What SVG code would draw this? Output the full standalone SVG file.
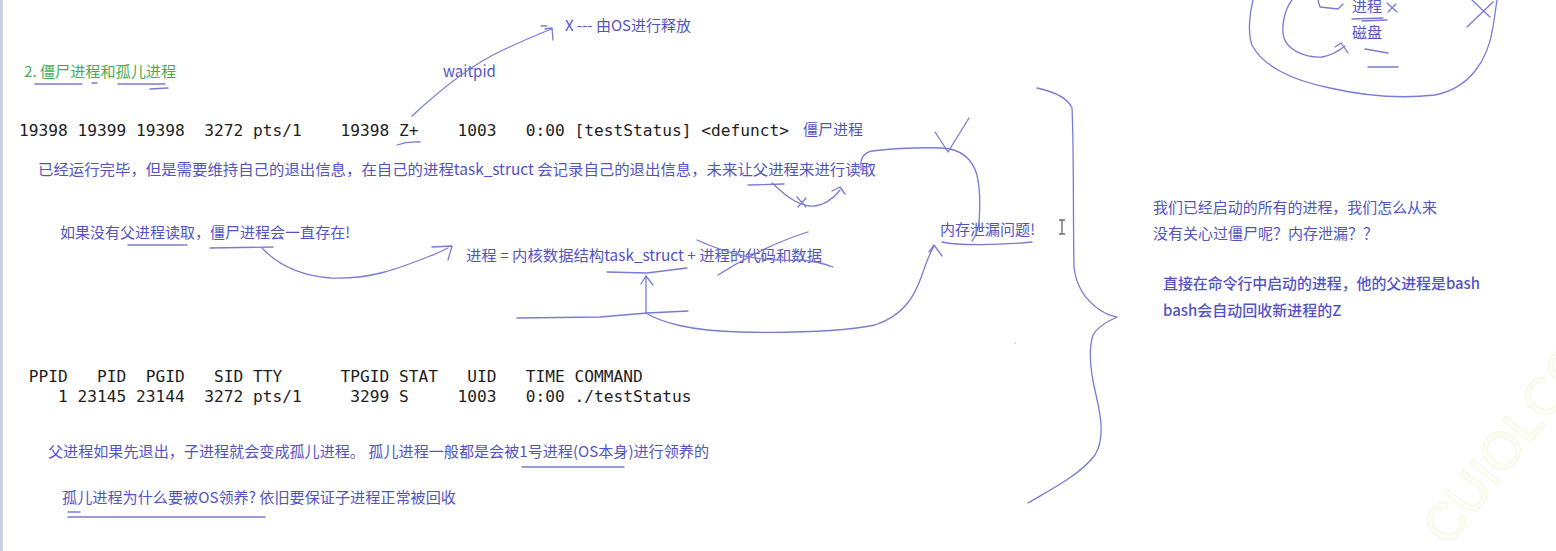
<svg xmlns="http://www.w3.org/2000/svg" width="1556" height="551" viewBox="0 0 1556 551">
<style>
.ink{fill:none;stroke:#7b7bd3;stroke-width:1.3;stroke-linecap:round;stroke-linejoin:round}
.cn{font-family:"Noto Sans CJK SC","Noto Sans",sans-serif;font-size:15px;fill:#5353c6}
.cnb{font-family:"Noto Sans CJK SC","Noto Sans",sans-serif;font-size:15px;fill:#5353c6;font-weight:500}
.green{font-family:"Noto Sans CJK SC","Noto Sans",sans-serif;font-size:14.5px;fill:#3fae4f}
.mono{font-family:"DejaVu Sans Mono","Liberation Mono",monospace;font-size:16.2px;fill:#1e1e1e}
</style>
<rect x="0" y="0" width="1556" height="551" fill="#ffffff"/>
<rect x="0" y="0" width="3" height="551" fill="#c9cee2"/>

<!-- watermark -->
<text x="1448" y="548" transform="rotate(-52 1448 548)" font-family="Liberation Sans,sans-serif" font-size="52" fill="none" stroke="#f6f8d8" stroke-width="1.2">CUIOLCOM</text>

<!-- title -->
<g id="title">
<text class="green" x="24" y="77" textLength="152" lengthAdjust="spacingAndGlyphs">2. 僵尸进程和孤儿进程</text>
<path class="ink" d="M35 84 L82 84 M92 83 L97 83 M118 84 L165 84 M150 89 L168 88"/>
</g>

<!-- zombie row -->
<g id="zombie-row">
<text class="mono" x="19" y="136" xml:space="preserve">19398 19399 19398  3272 pts/1    19398 Z+    1003   0:00 [testStatus] &lt;defunct&gt;</text>
<text class="cn" x="803" y="135">僵尸进程</text>
</g>

<g id="release">
<text class="cn" x="565" y="31">X --- 由OS进行释放</text>
<text class="cn" x="443" y="77">waitpid</text>
</g>

<g id="notes">
<text class="cn" x="38" y="175" textLength="838" lengthAdjust="spacingAndGlyphs">已经运行完毕，但是需要维持自己的退出信息，在自己的进程task_struct 会记录自己的退出信息，未来让父进程来进行读取</text>
<text class="cn" x="60" y="238" textLength="290" lengthAdjust="spacingAndGlyphs">如果没有父进程读取，僵尸进程会一直存在!</text>
<text class="cn" x="466" y="261" textLength="356" lengthAdjust="spacingAndGlyphs">进程 = 内核数据结构task_struct + 进程的代码和数据</text>
<text class="cn" x="940" y="235" textLength="95" lengthAdjust="spacingAndGlyphs">内存泄漏问题!</text>
</g>

<!-- orphan -->
<g id="orphan-rows">
<text class="mono" x="19" y="382" xml:space="preserve"> PPID   PID  PGID   SID TTY      TPGID STAT   UID   TIME COMMAND</text>
<text class="mono" x="19" y="402" xml:space="preserve">    1 23145 23144  3272 pts/1     3299 S     1003   0:00 ./testStatus</text>
</g>
<g id="orphan-notes">
<text class="cn" x="48" y="457" textLength="661" lengthAdjust="spacingAndGlyphs">父进程如果先退出，子进程就会变成孤儿进程。 孤儿进程一般都是会被1号进程(OS本身)进行领养的</text>
<text class="cn" x="62" y="503" textLength="394" lengthAdjust="spacingAndGlyphs">孤儿进程为什么要被OS领养? 依旧要保证子进程正常被回收</text>
</g>

<!-- right notes -->
<g id="right-notes">
<text class="cn" x="1153" y="213" textLength="284" lengthAdjust="spacingAndGlyphs">我们已经启动的所有的进程，我们怎么从来</text>
<text class="cn" x="1153" y="239">没有关心过僵尸呢？内存泄漏？？</text>
<text class="cnb" x="1163" y="289" textLength="317" lengthAdjust="spacingAndGlyphs">直接在命令行中启动的进程，他的父进程是bash</text>
<text class="cnb" x="1163" y="316">bash会自动回收新进程的Z</text>
</g>

<!-- top right sketch -->
<g id="disk-sketch">
<text class="cn" x="1352" y="12">进程</text>
<text class="cn" x="1352" y="38">磁盘</text>
<path class="ink" d="M1387 3 L1397 12 M1396 4 L1388 12"/>
<path class="ink" d="M1352 19 L1383 18 M1362 21 L1387 20" stroke-width="1.8"/>
<path class="ink" d="M1365 49 L1388 53 M1368 67 L1398 67"/>
<path class="ink" d="M1253 0 C1249 15 1248 35 1252 45 C1262 65 1290 80 1330 88 C1365 96 1400 99 1435 95 C1470 88 1488 60 1493 27 L1497 0"/>
<path class="ink" d="M1292 0 C1284 10 1281 28 1284 38 C1288 50 1305 58 1322 57 C1333 55 1340 50 1345 46"/>
<path class="ink" d="M1335 47 L1341 43 L1348 53"/>
<path class="ink" d="M1318 0 L1320 7 L1338 9 L1343 4"/>
<path class="ink" d="M1467 27 L1493 2 M1472 0 L1490 17"/>
</g>

<g id="cursor">
<path d="M1062 220 L1062 234 M1059 220 L1065 220 M1059 234 L1065 234" fill="none" stroke="#6e6e6e" stroke-width="1.4"/>
</g>

<!-- connectors -->
<g id="connectors">
<path class="ink" d="M397 145 Q408 141 420 142"/>
<path class="ink" d="M412 116 C440 90 470 65 503 50 C525 40 540 33 552 29"/>
<path class="ink" d="M541 26 L547 26 M545 29 L552 28 L553 40"/>
<path class="ink" d="M748 185 L784 184"/>
<path class="ink" d="M772 183 C785 195 795 204 810 206 C823 207 834 198 840 190"/>
<path class="ink" d="M832 191 L840 187 L845 194"/>
<path class="ink" d="M797 197 L806 207 M806 198 L798 207"/>
<path class="ink" d="M860 170 L872 165"/>
<path class="ink" d="M861 168 C860 160 863 153 872 151 C890 149 915 147 942 148 C960 149 972 158 977 175 C981 192 980 210 979 222 C978 231 975 237 972 241"/>
<path class="ink" d="M935 132 L948 152 L969 118"/>
<path class="ink" d="M942 242 C960 246 1000 245 1032 242"/>
<path class="ink" d="M128 245 L187 245 M210 248 L273 247"/>
<path class="ink" d="M262 248 C275 262 295 275 330 278 C370 280 400 268 430 256 C438 253 444 250 448 248"/>
<path class="ink" d="M432 247 L452 246 L448 260"/>
<path class="ink" d="M607 272 L647 273 L687 268"/>
<path class="ink" d="M697 240 C730 255 760 262 800 260 C815 261 825 264 833 267"/>
<path class="ink" d="M718 275 C745 258 775 242 808 232"/>
<path class="ink" d="M517 318 L600 317 L647 313 L688 311"/>
<path class="ink" d="M646 313 L646 276"/>
<path class="ink" d="M641 284 L646 276 L653 285"/>
<path class="ink" d="M646 313 C660 322 690 331 740 332 C790 333 840 332 875 325 C905 315 915 295 922 275 C926 263 930 253 934 246"/>
<path class="ink" d="M929 252 L934 245 L942 256"/>
<path class="ink" d="M522 467 L624 467"/>
<path class="ink" d="M68 512 L80 512 M68 517 L265 517"/>
<path class="ink" d="M1037 88 C1055 92 1068 98 1072 108 C1074 150 1073 220 1074 267 C1076 285 1085 300 1100 310 C1106 314 1112 316 1117 317 C1108 321 1098 326 1093 335 C1088 350 1090 370 1096 395 C1102 420 1104 440 1095 455 C1080 475 1050 490 1028 503"/>
<circle cx="1015" cy="343" r="0.8" fill="#b0b0d8"/>
</g>
</svg>
